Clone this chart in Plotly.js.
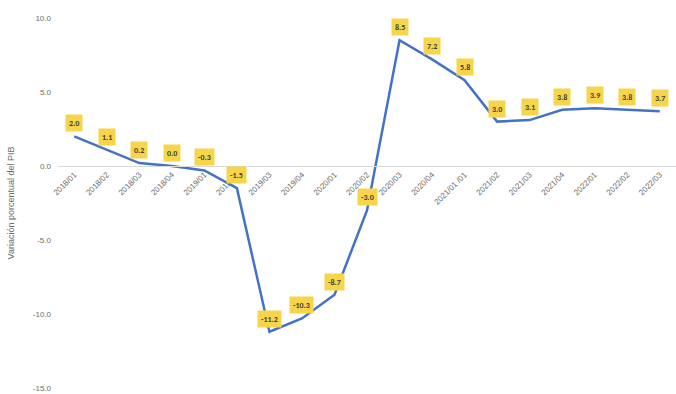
<!DOCTYPE html>
<html>
<head>
<meta charset="utf-8">
<script src="https://cdn.plot.ly/plotly-3.0.1.min.js"></script>
<style>html,body{margin:0;padding:0;background:#fff;}#chart{width:676px;height:394px;}</style>
</head>
<body>
<div id="chart"></div>
<script>
const periods = ["2018/01","2018/02","2018/03","2018/04","2019/01","2019/02","2019/03","2019/04","2020/01","2020/02","2020/03","2020/04","2021/01 /01","2021/02","2021/03","2021/04","2022/01","2022/02","2022/03"];
const variation = [2.0,1.1,0.2,0.0,-0.3,-1.5,-11.2,-10.3,-8.7,-3.0,8.5,7.2,5.8,3.0,3.1,3.8,3.9,3.8,3.7];
const yTicks = [10,5,0,-5,-10,-15];

const yMin = -15, yMax = 10;
const trace = {
  x: periods, y: variation, type: 'scatter', mode: 'lines',
  line: {color: '#4472C4', width: 2.5}, hoverinfo: 'skip', cliponaxis: false
};
const annotations = periods.map((p, i) => ({
  x: p, y: variation[i], xref: 'x', yref: 'y',
  text: '<b>' + variation[i].toFixed(1) + '</b>',
  showarrow: false, yshift: 13, bgcolor: '#F7D54A', borderpad: 3,
  font: {family: 'Calibri, Carlito, "Liberation Sans", Arial, sans-serif', size: 8, color: '#404040'}
}));
const layout = {
  width: 676, height: 394,
  margin: {l: 58, r: 0, t: 18, b: 6},
  paper_bgcolor: '#fff', plot_bgcolor: '#fff',
  showlegend: false,
  font: {family: '"Liberation Sans", Arial, sans-serif', color: '#6b6b6b', size: 8},
  xaxis: {
    type: 'category', range: [-0.5, periods.length - 0.5],
    anchor: 'free', position: (0 - yMin) / (yMax - yMin),
    showline: true, linecolor: '#d9d9d9', linewidth: 1,
    showgrid: false, zeroline: false, ticks: '',
    tickangle: -45, tickfont: {size: 8, color: '#6b6b6b'}
  },
  yaxis: {
    range: [yMin, yMax], tickvals: yTicks, ticktext: yTicks.map(v => v.toFixed(1)),
    showgrid: false, zeroline: false, showline: false, ticks: '',
    ticklabelstandoff: 6,
    tickfont: {size: 8, color: '#6b6b6b'},
    title: {text: 'Variación porcentual del PIB', font: {size: 9, color: '#6b6b6b'}, standoff: 16}
  },
  annotations: annotations
};
Plotly.newPlot('chart', [trace], layout, {displayModeBar: false, staticPlot: true});
</script>
</body>
</html>
